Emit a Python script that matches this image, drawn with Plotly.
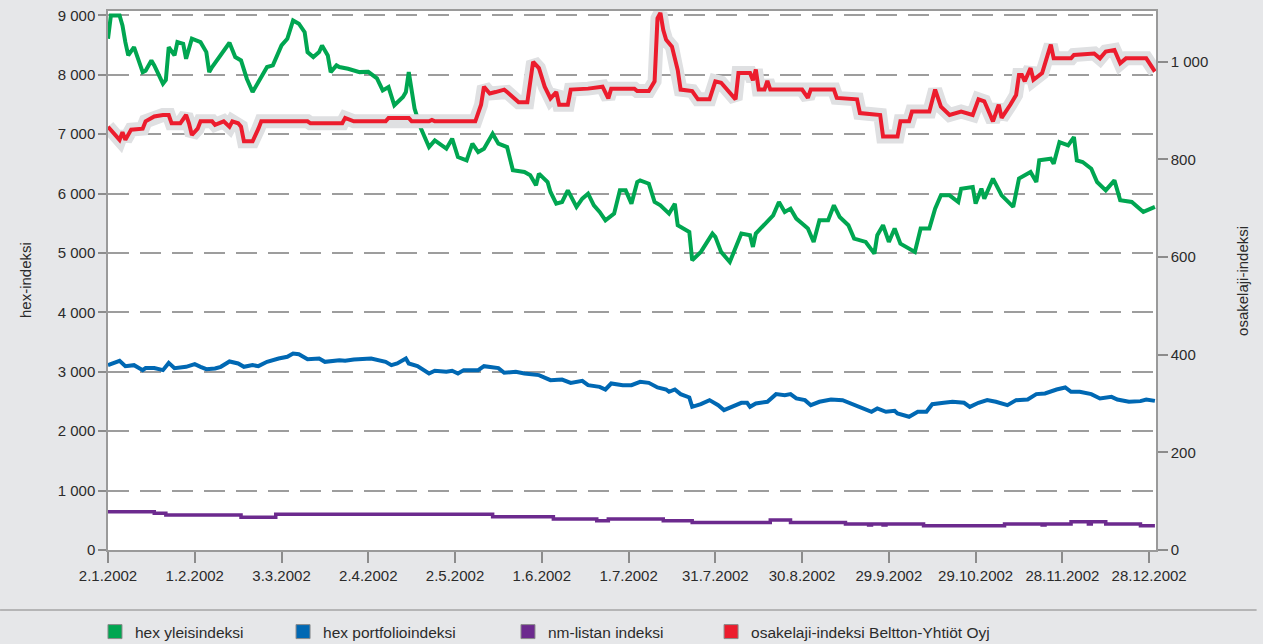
import pandas as pd
import plotly.graph_objects as go

START = "2002-01-02"  # day offsets below count calendar days from 2.1.2002

# hex yleisindeksi (left axis)
green_day = [0, 1, 4, 5, 6, 7, 9, 10, 12, 13, 15, 16, 19, 20, 21, 23, 24, 26, 27, 29, 32, 34, 35, 36, 39,
             42, 44, 46, 48, 49, 50, 52, 55, 57, 60, 62, 64, 66, 68, 69, 71, 73, 74, 76, 77, 79, 80, 83, 87,
             90, 92, 93, 95, 97, 99, 102, 103, 104, 106, 108, 111, 113, 117, 119, 121, 124, 126, 128, 130,
             133, 135, 138, 140, 144, 146, 148, 149, 152, 153, 155, 157, 159, 162, 164, 166, 168, 170, 172,
             175, 177, 179, 181, 183, 184, 187, 189, 191, 194, 196, 197, 201, 202, 205, 209, 210, 212, 215,
             217, 219, 222, 223, 224, 228, 230, 232, 234, 236, 238, 240, 242, 244, 246, 249, 251, 253, 256,
             258, 262, 265, 266, 268, 270, 272, 274, 279, 281, 284, 286, 288, 291, 294, 295, 299, 300, 302,
             303, 306, 309, 313, 315, 319, 321, 322, 326, 327, 329, 332, 334, 335, 337, 340, 342, 345, 348,
             350, 354, 358, 362]
green_val = [8607, 9000, 9000, 8830, 8550, 8326, 8466, 8326, 8045, 8070, 8242, 8158, 7850, 7912, 8466, 8326,
             8550, 8522, 8270, 8607, 8550, 8382, 8045, 8130, 8326, 8540, 8298, 8242, 7934, 7821, 7709, 7878,
             8130, 8158, 8494, 8607, 8915, 8860, 8718, 8382, 8298, 8382, 8494, 8326, 8045, 8158, 8130, 8102,
             8045, 8050, 7962, 7940, 7737, 7793, 7487, 7626, 7709, 8045, 7430, 7120, 6783, 6896, 6756, 6925,
             6615, 6560, 6840, 6700, 6756, 7008, 6840, 6783, 6392, 6364, 6308, 6139, 6336, 6195, 6027, 5831,
             5859, 6055, 5775, 5915, 5999, 5803, 5691, 5551, 5663, 6055, 6055, 5831, 6195, 6223, 6167, 5859,
             5803, 5663, 5831, 5467, 5355, 4878, 5018, 5327, 5271, 5018, 4849, 5074, 5327, 5299, 5102, 5327,
             5523, 5635, 5859, 5691, 5747, 5579, 5495, 5411, 5186, 5551, 5551, 5803, 5607, 5467, 5243, 5186,
             4990, 5299, 5467, 5186, 5411, 5158, 5018, 5411, 5411, 5747, 5971, 5971, 5859, 6083, 6111, 5831,
             6083, 5915, 6252, 5971, 5775, 6252, 6364, 6195, 6560, 6588, 6504, 6868, 6812, 6952, 6560, 6532,
             6420, 6195, 6055, 6223, 5887, 5859, 5691, 5775]

# hex portfolioindeksi (left axis)
blue_day = [0, 4, 6, 9, 12, 13, 16, 19, 21, 23, 27, 30, 32, 34, 37, 39, 42, 45, 47, 50, 52, 55, 59, 62, 64,
            66, 69, 73, 75, 80, 82, 85, 91, 94, 96, 98, 100, 103, 104, 107, 109, 111, 113, 117, 119, 121, 123,
            128, 130, 135, 137, 141, 144, 149, 153, 157, 160, 164, 166, 170, 172, 174, 178, 181, 184, 187,
            190, 193, 194, 196, 198, 201, 202, 205, 208, 211, 213, 216, 219, 221, 222, 224, 228, 231, 234,
            236, 238, 241, 243, 246, 250, 254, 258, 261, 264, 266, 269, 272, 273, 277, 280, 283, 285, 289,
            292, 296, 298, 301, 304, 307, 311, 314, 318, 321, 324, 328, 331, 333, 336, 340, 343, 347, 349,
            353, 357, 359, 362]
blue_val = [3112, 3184, 3095, 3112, 3028, 3062, 3062, 3028, 3150, 3062, 3084, 3128, 3084, 3045, 3056, 3084,
            3174, 3140, 3084, 3112, 3095, 3168, 3224, 3252, 3308, 3297, 3213, 3224, 3168, 3196, 3185, 3207,
            3224, 3185, 3168, 3112, 3140, 3224, 3140, 3095, 3028, 2972, 3017, 3000, 3017, 2972, 3028, 3028,
            3095, 3062, 2983, 3000, 2972, 2944, 2859, 2870, 2814, 2848, 2775, 2747, 2702, 2803, 2775, 2775,
            2831, 2814, 2736, 2702, 2663, 2702, 2624, 2568, 2410, 2455, 2523, 2438, 2355, 2410, 2478, 2478,
            2410, 2467, 2495, 2624, 2607, 2624, 2551, 2523, 2438, 2495, 2534, 2523, 2438, 2383, 2327, 2383,
            2327, 2343, 2299, 2243, 2327, 2327, 2455, 2478, 2495, 2478, 2410, 2478, 2523, 2495, 2438, 2523,
            2534, 2624, 2635, 2702, 2736, 2663, 2663, 2624, 2551, 2579, 2534, 2495, 2506, 2534, 2510]

# nm-listan indeksi (left axis)
purple_day = [0, 16, 20, 46, 58, 133, 154, 169, 173, 192, 202, 229, 236, 255, 263, 264, 268, 269, 282, 310,
              323, 324, 333, 339, 340, 345, 357, 362]
purple_val = [645, 617, 589, 550, 600, 561, 521, 493, 521, 493, 465, 505, 465, 437, 420, 437, 420, 437, 409,
              437, 420, 437, 476, 437, 476, 437, 409, 409]

# osakelaji-indeksi Beltton-Yhtiöt Oyj (right axis)
red_day = [0, 2, 4, 5, 6, 8, 10, 12, 13, 16, 19, 21, 22, 25, 27, 28, 29, 31, 32, 36, 37, 40, 42, 43, 45, 46,
           47, 50, 52, 53, 69, 70, 81, 82, 85, 96, 97, 104, 105, 111, 112, 113, 127, 129, 130, 132, 134, 137,
           138, 142, 145, 147, 149, 151, 153, 155, 156, 159, 160, 166, 171, 173, 174, 182, 183, 187, 189, 190,
           191, 192, 193, 195, 197, 198, 202, 204, 208, 210, 212, 214, 217, 218, 222, 223, 224, 225, 227, 228,
           229, 240, 242, 243, 251, 252, 259, 260, 267, 268, 273, 274, 277, 278, 284, 286, 288, 291, 295, 299,
           301, 303, 306, 308, 309, 312, 314, 315, 316, 317, 319, 320, 323, 326, 327, 333, 334, 341, 343, 345,
           348, 350, 352, 359, 361, 362]
red_val = [867, 854, 840, 856, 840, 861, 861, 863, 878, 888, 891, 891, 874, 874, 891, 874, 850, 863, 878, 878,
           871, 878, 867, 878, 874, 867, 837, 837, 863, 878, 878, 874, 874, 885, 878, 878, 885, 885, 878, 878,
           881, 878, 878, 912, 949, 935, 938, 943, 938, 917, 917, 1000, 987, 949, 925, 938, 912, 912, 943, 945,
           949, 925, 945, 945, 940, 940, 960, 1089, 1100, 1065, 1045, 1031, 983, 943, 940, 923, 923, 960, 957,
           943, 923, 977, 977, 962, 984, 943, 943, 961, 943, 943, 926, 943, 943, 926, 923, 895, 891, 847, 847,
           878, 878, 898, 898, 943, 908, 891, 898, 891, 923, 919, 878, 912, 885, 912, 932, 973, 973, 960, 987,
           963, 977, 1035, 1007, 1007, 1014, 1017, 1007, 1021, 1024, 997, 1007, 1007, 990, 980]

# axis ticks
x_tick_labels = ["2.1.2002", "1.2.2002", "3.3.2002", "2.4.2002", "2.5.2002", "1.6.2002", "1.7.2002",
                 "31.7.2002", "30.8.2002", "29.9.2002", "29.10.2002", "28.11.2002", "28.12.2002"]
y_left_ticks = [0, 1000, 2000, 3000, 4000, 5000, 6000, 7000, 8000, 9000]
y_left_labels = ["0", "1 000", "2 000", "3 000", "4 000", "5 000", "6 000", "7 000", "8 000", "9 000"]
y_right_ticks = [0, 200, 400, 600, 800, 1000]
y_right_labels = ["0", "200", "400", "600", "800", "1 000"]

names = ["hex yleisindeksi", "hex portfolioindeksi", "nm-listan indeksi",
         "osakelaji-indeksi Beltton-Yhtiöt Oyj"]
colors = ["#00a651", "#0068b3", "#6c2a8e", "#ec1c2d"]
legend_ids = ["legend", "legend2", "legend3", "legend4"]
legend_x = [0.0752, 0.2241, 0.4022, 0.5630]


def to_dates(days):
    return pd.Timestamp(START) + pd.to_timedelta(days, unit="D")


x_tick_vals = pd.to_datetime(x_tick_labels, format="%d.%m.%Y")

fig = go.Figure()
fig.add_trace(go.Scatter(x=to_dates(purple_day), y=purple_val, mode="lines", line_shape="hv",
                         line=dict(color=colors[2], width=3.5), showlegend=False))
fig.add_trace(go.Scatter(x=to_dates(blue_day), y=blue_val, mode="lines",
                         line=dict(color=colors[1], width=4), showlegend=False))
fig.add_trace(go.Scatter(x=to_dates(green_day), y=green_val, mode="lines",
                         line=dict(color=colors[0], width=4), showlegend=False))
fig.add_trace(go.Scatter(x=to_dates(red_day), y=red_val, mode="lines", yaxis="y2",
                         line=dict(color="#dfe0e2", width=14), showlegend=False, hoverinfo="skip"))
fig.add_trace(go.Scatter(x=to_dates(red_day), y=red_val, mode="lines", yaxis="y2",
                         line=dict(color=colors[3], width=4), showlegend=False))

# legend entries (square swatches), one legend box per entry
for n, c, lid in zip(names, colors, legend_ids):
    fig.add_trace(go.Scatter(x=[None], y=[None], mode="markers", name=n, legend=lid,
                             marker=dict(symbol="square", size=14, color=c,
                                         line=dict(color="#8a8a8a", width=1))))

font = dict(family="Liberation Sans, Arial, sans-serif", size=15, color="#2b2b2b")
legend_common = dict(orientation="h", xref="container", yref="container", xanchor="left",
                     y=0.0186, yanchor="middle", bgcolor="rgba(0,0,0,0)",
                     font=dict(size=15.5, color="#2b2b2b"))

fig.update_layout(
    width=1263, height=644,
    margin=dict(l=108, r=107, t=11, b=94, autoexpand=False),
    paper_bgcolor="#e6e7e9", plot_bgcolor="#ffffff",
    font=font,
    showlegend=True,
    legend=dict(x=legend_x[0], **legend_common),
    legend2=dict(x=legend_x[1], **legend_common),
    legend3=dict(x=legend_x[2], **legend_common),
    legend4=dict(x=legend_x[3], **legend_common),
    xaxis=dict(type="date", range=["2002-01-02", "2002-12-30 09:00"],
               tickmode="array", tickvals=x_tick_vals, ticktext=x_tick_labels,
               ticks="outside", ticklen=11, tickcolor="#8c8c8c", tickwidth=1.5,
               showline=True, linecolor="#9a9a9a", linewidth=1.5, mirror=True,
               showgrid=False, zeroline=False),
    yaxis=dict(range=[0, 9074], tickmode="array", tickvals=y_left_ticks, ticktext=y_left_labels,
               ticks="outside", ticklen=8, tickcolor="#8c8c8c", tickwidth=1.5,
               showline=True, linecolor="#9a9a9a", linewidth=1.5,
               showgrid=True, gridcolor="#9d9d9d", gridwidth=1.5, griddash="21px,11px",
               zeroline=False),
    yaxis2=dict(range=[0, 1104], overlaying="y", side="right", tickmode="array",
                tickvals=y_right_ticks, ticktext=y_right_labels,
                ticks="outside", ticklen=10, tickcolor="#8c8c8c", tickwidth=1.5,
                showline=True, linecolor="#9a9a9a", linewidth=1.5,
                showgrid=False, zeroline=False),
    annotations=[
        dict(text="hex-indeksi", xref="paper", yref="paper", x=-0.0887, y=0.5, textangle=-90,
             showarrow=False, font=dict(size=15, color="#2b2b2b")),
        dict(text="osakelaji-indeksi", xref="paper", yref="paper", x=1.0925, y=0.5, textangle=-90,
             showarrow=False, font=dict(size=15, color="#2b2b2b")),
    ],
    shapes=[dict(type="line", xref="paper", yref="paper", x0=-0.103, x1=1.096, y0=-0.1113, y1=-0.1113,
                 line=dict(color="#a5a5a5", width=1.5))],
)

fig.write_html("out.html", config={"displayModeBar": False},
               post_script="document.body.style.margin='0';document.body.style.overflow='hidden';")
